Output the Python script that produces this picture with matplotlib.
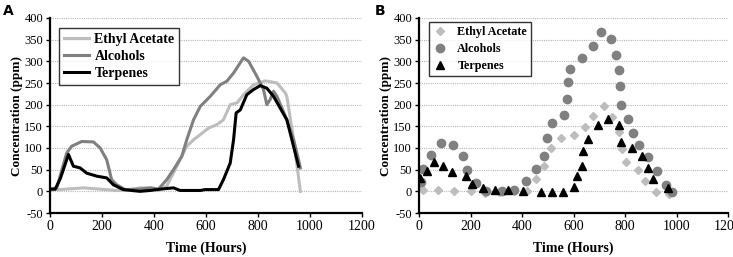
import matplotlib
matplotlib.use("Agg")
import matplotlib.pyplot as plt

plt.rcParams["axes.unicode_minus"] = False

# ---- Panel A data (continuous lines) ----
ea_a_x = [0, 60, 128, 193, 257, 300, 346, 385, 417, 449, 488, 526, 552, 578, 610, 642, 667, 693, 719, 744, 783, 828, 873, 905, 911, 937, 963]
ea_a_y = [3, 5, 8, 5, 2, 3, 8, 8, 2, 12, 58, 104, 119, 131, 146, 154, 165, 200, 204, 223, 246, 255, 250, 227, 219, 119, 0]

al_a_x = [0, 26, 64, 83, 122, 167, 193, 218, 237, 257, 289, 340, 390, 417, 449, 475, 507, 526, 552, 578, 616, 655, 680, 706, 744, 764, 796, 821, 834, 847, 860, 873, 911, 937, 956, 963]
al_a_y = [5, 8, 88, 104, 115, 114, 100, 73, 27, 15, 4, 5, 8, 5, 27, 50, 81, 119, 165, 196, 219, 246, 254, 273, 308, 300, 265, 235, 200, 212, 231, 219, 165, 119, 73, 54]

te_a_x = [0, 20, 40, 71, 90, 116, 141, 180, 218, 244, 282, 346, 385, 424, 475, 500, 578, 597, 648, 667, 693, 706, 716, 732, 757, 783, 809, 834, 860, 911, 956]
te_a_y = [5, 5, 30, 85, 58, 54, 42, 35, 31, 15, 4, 0, 2, 5, 8, 2, 2, 4, 4, 27, 65, 119, 181, 188, 223, 235, 244, 238, 219, 165, 58]

# ---- Panel B data (markers) ----
ea_b_x = [2, 17, 75, 136, 201, 258, 311, 370, 421, 453, 485, 513, 550, 600, 645, 677, 718, 751, 777, 787, 804, 852, 878, 919, 972]
ea_b_y = [12, 2, 2, 0, 0, -4, -2, 0, 0, 29, 58, 100, 123, 131, 149, 173, 198, 172, 137, 98, 67, 49, 23, -1, -5]

al_b_x = [6, 17, 45, 84, 133, 170, 188, 221, 262, 324, 369, 416, 453, 485, 496, 517, 564, 575, 577, 586, 634, 677, 706, 744, 766, 775, 781, 786, 810, 833, 856, 889, 923, 959, 981]
al_b_y = [21, 52, 85, 112, 108, 82, 50, 19, 1, 1, 2, 25, 52, 81, 123, 158, 177, 212, 252, 282, 308, 336, 368, 352, 315, 279, 242, 199, 168, 135, 108, 79, 46, 15, -2]

te_b_x = [4, 32, 58, 95, 129, 181, 207, 250, 295, 347, 405, 473, 518, 561, 600, 615, 634, 638, 655, 694, 733, 778, 784, 826, 865, 888, 910, 968]
te_b_y = [31, 46, 67, 59, 44, 35, 18, 8, 2, 2, 0, -1, -1, -1, 10, 35, 59, 92, 121, 152, 168, 152, 115, 100, 82, 54, 29, 8]

x_ticks = [0, 200, 400, 600, 800, 1000, 1200]
y_ticks = [-50, 0, 50, 100, 150, 200, 250, 300, 350, 400]
series_names = ["Ethyl Acetate", "Alcohols", "Terpenes"]

C_EA = "#bdbdbd"
C_AL = "#808080"
C_TE = "#000000"

SERIF = ["Liberation Serif", "DejaVu Serif"]

fig = plt.figure(figsize=(7.33, 2.57), dpi=100)
axA = fig.add_axes([50 / 733, 1 - 213 / 257, 312 / 733, 195 / 257])
axB = fig.add_axes([419 / 733, 1 - 213 / 257, 309 / 733, 195 / 257])


def style(ax):
    ax.set_xlim(0, 1200)
    ax.set_ylim(-50, 400)
    ax.set_xticks(x_ticks)
    ax.set_yticks(y_ticks)
    for s in ["top", "right"]:
        ax.spines[s].set_visible(False)
    for s in ["left", "bottom"]:
        ax.spines[s].set_linewidth(1.6)
        ax.spines[s].set_color("black")
    ax.yaxis.grid(True, linestyle=(0, (1, 1)), color="#b8b8b8", linewidth=0.8)
    ax.set_axisbelow(True)
    ax.tick_params(axis="both", length=3, width=1, direction="out", pad=2)
    ax.tick_params(axis="x", labelsize=10)
    ax.tick_params(axis="y", labelsize=9)
    for lab in ax.get_xticklabels() + ax.get_yticklabels():
        lab.set_family(SERIF)
    ax.set_xlabel("Time (Hours)", family=SERIF, fontweight="bold", fontsize=10, labelpad=6)
    ax.set_ylabel("Concentration (ppm)", family=SERIF, fontweight="bold", fontsize=9.5, labelpad=1)


style(axA)
style(axB)

axA.plot(ea_a_x, ea_a_y, color=C_EA, lw=2.2, label=series_names[0])
axA.plot(al_a_x, al_a_y, color=C_AL, lw=2.2, label=series_names[1])
axA.plot(te_a_x, te_a_y, color=C_TE, lw=2.2, label=series_names[2])
legA = axA.legend(loc="upper left", bbox_to_anchor=(0.029, 0.95), borderaxespad=0, frameon=True,
                  fancybox=False, prop={"family": SERIF, "weight": "bold", "size": 10},
                  handlelength=1.8, borderpad=0.35, labelspacing=0.3, handletextpad=0.4)
legA.get_frame().set_edgecolor("black")
legA.get_frame().set_linewidth(1.0)

axB.plot(ea_b_x, ea_b_y, linestyle="none", marker="D", ms=4.5, color=C_EA, mec=C_EA, label=series_names[0])
axB.plot(al_b_x, al_b_y, linestyle="none", marker="o", ms=6, color=C_AL, mec=C_AL, label=series_names[1])
axB.plot(te_b_x, te_b_y, linestyle="none", marker="^", ms=6, color=C_TE, mec=C_TE, label=series_names[2])
legB = axB.legend(loc="upper left", bbox_to_anchor=(0.032, 0.98), borderaxespad=0, frameon=True,
                  fancybox=False, prop={"family": SERIF, "weight": "bold", "size": 8.7},
                  handlelength=1.2, borderpad=0.35, labelspacing=0.4, handletextpad=0.8)
legB.get_frame().set_edgecolor("black")
legB.get_frame().set_linewidth(1.0)

fig.text(3 / 733, 1 - 11 / 257, "A", fontsize=10, fontweight="bold", va="center", ha="left")
fig.text(375 / 733, 1 - 11 / 257, "B", fontsize=10, fontweight="bold", va="center", ha="left")

fig.savefig("out.png", dpi=100)
